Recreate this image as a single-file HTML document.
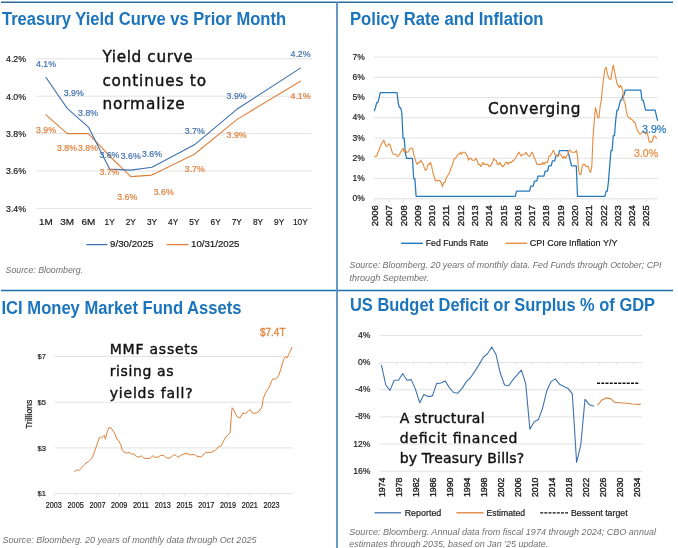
<!DOCTYPE html>
<html lang="en"><head><meta charset="utf-8"><title>Charts</title>
<style>html,body{margin:0;padding:0;background:#fff;}body{width:678px;height:548px;overflow:hidden;}svg{display:block;}</style>
</head><body>
<svg width="678" height="548" viewBox="0 0 678 548" font-family="'Liberation Sans', Arial, sans-serif">
<rect width="678" height="548" fill="#fff"/>
<line x1="1.0" y1="2.3" x2="673.0" y2="2.3" stroke="#2a6e9f" stroke-width="1.4"/>
<line x1="1.0" y1="290.5" x2="673.0" y2="290.5" stroke="#1e70ad" stroke-width="1.4"/>
<line x1="337.0" y1="2.0" x2="337.0" y2="548.0" stroke="#5a8fc0" stroke-width="1.8"/>
<text x="2.0" y="24.5" font-size="17.5" fill="#1c75bc" font-weight="bold" textLength="284.0" lengthAdjust="spacingAndGlyphs">Treasury Yield Curve vs Prior Month</text>
<text x="350.0" y="24.5" font-size="17.5" fill="#1c75bc" font-weight="bold" textLength="193.5" lengthAdjust="spacingAndGlyphs">Policy Rate and Inflation</text>
<text x="1.5" y="313.5" font-size="17.5" fill="#1c75bc" font-weight="bold" textLength="240.0" lengthAdjust="spacingAndGlyphs">ICI Money Market Fund Assets</text>
<text x="350.0" y="311.3" font-size="17.5" fill="#1c75bc" font-weight="bold" textLength="305.0" lengthAdjust="spacingAndGlyphs">US Budget Deficit or Surplus % of GDP</text>
<line x1="36.0" y1="58.8" x2="311.8" y2="58.8" stroke="#e2e2e2" stroke-width="1"/>
<text x="6.0" y="62.1" font-size="9.5" fill="#1a1a1a" stroke="#1a1a1a" stroke-width="0.2" textLength="20.0" lengthAdjust="spacingAndGlyphs">4.2%</text>
<line x1="36.0" y1="96.2" x2="311.8" y2="96.2" stroke="#e2e2e2" stroke-width="1"/>
<text x="6.0" y="99.5" font-size="9.5" fill="#1a1a1a" stroke="#1a1a1a" stroke-width="0.2" textLength="20.0" lengthAdjust="spacingAndGlyphs">4.0%</text>
<line x1="36.0" y1="133.6" x2="311.8" y2="133.6" stroke="#e2e2e2" stroke-width="1"/>
<text x="6.0" y="136.9" font-size="9.5" fill="#1a1a1a" stroke="#1a1a1a" stroke-width="0.2" textLength="20.0" lengthAdjust="spacingAndGlyphs">3.8%</text>
<line x1="36.0" y1="171.0" x2="311.8" y2="171.0" stroke="#e2e2e2" stroke-width="1"/>
<text x="6.0" y="174.3" font-size="9.5" fill="#1a1a1a" stroke="#1a1a1a" stroke-width="0.2" textLength="20.0" lengthAdjust="spacingAndGlyphs">3.6%</text>
<line x1="36.0" y1="208.4" x2="311.8" y2="208.4" stroke="#e2e2e2" stroke-width="1"/>
<text x="6.0" y="211.7" font-size="9.5" fill="#1a1a1a" stroke="#1a1a1a" stroke-width="0.2" textLength="20.0" lengthAdjust="spacingAndGlyphs">3.4%</text>
<text x="39.1" y="225.2" font-size="9.6" fill="#1a1a1a" stroke="#1a1a1a" stroke-width="0.2" textLength="13.8" lengthAdjust="spacingAndGlyphs">1M</text>
<text x="60.3" y="225.2" font-size="9.6" fill="#1a1a1a" stroke="#1a1a1a" stroke-width="0.2" textLength="13.8" lengthAdjust="spacingAndGlyphs">3M</text>
<text x="81.5" y="225.2" font-size="9.6" fill="#1a1a1a" stroke="#1a1a1a" stroke-width="0.2" textLength="13.8" lengthAdjust="spacingAndGlyphs">6M</text>
<text x="104.5" y="225.2" font-size="9.6" fill="#1a1a1a" stroke="#1a1a1a" stroke-width="0.2" textLength="10.2" lengthAdjust="spacingAndGlyphs">1Y</text>
<text x="125.7" y="225.2" font-size="9.6" fill="#1a1a1a" stroke="#1a1a1a" stroke-width="0.2" textLength="10.2" lengthAdjust="spacingAndGlyphs">2Y</text>
<text x="146.9" y="225.2" font-size="9.6" fill="#1a1a1a" stroke="#1a1a1a" stroke-width="0.2" textLength="10.2" lengthAdjust="spacingAndGlyphs">3Y</text>
<text x="168.1" y="225.2" font-size="9.6" fill="#1a1a1a" stroke="#1a1a1a" stroke-width="0.2" textLength="10.2" lengthAdjust="spacingAndGlyphs">4Y</text>
<text x="189.3" y="225.2" font-size="9.6" fill="#1a1a1a" stroke="#1a1a1a" stroke-width="0.2" textLength="10.2" lengthAdjust="spacingAndGlyphs">5Y</text>
<text x="210.5" y="225.2" font-size="9.6" fill="#1a1a1a" stroke="#1a1a1a" stroke-width="0.2" textLength="10.2" lengthAdjust="spacingAndGlyphs">6Y</text>
<text x="231.7" y="225.2" font-size="9.6" fill="#1a1a1a" stroke="#1a1a1a" stroke-width="0.2" textLength="10.2" lengthAdjust="spacingAndGlyphs">7Y</text>
<text x="252.9" y="225.2" font-size="9.6" fill="#1a1a1a" stroke="#1a1a1a" stroke-width="0.2" textLength="10.2" lengthAdjust="spacingAndGlyphs">8Y</text>
<text x="274.1" y="225.2" font-size="9.6" fill="#1a1a1a" stroke="#1a1a1a" stroke-width="0.2" textLength="10.2" lengthAdjust="spacingAndGlyphs">9Y</text>
<text x="293.0" y="225.2" font-size="9.6" fill="#1a1a1a" stroke="#1a1a1a" stroke-width="0.2" textLength="14.8" lengthAdjust="spacingAndGlyphs">10Y</text>
<polyline points="46.0,114.9 67.2,133.6 88.4,133.6 109.6,156.0 130.8,176.6 152.0,175.1 194.4,154.2 236.8,119.6 300.4,81.2" fill="none" stroke="#e0803c" stroke-width="1.1" stroke-linejoin="round" stroke-linecap="round"/>
<polyline points="46.0,77.5 67.2,108.4 88.4,127.1 109.6,169.1 130.8,170.1 152.0,167.3 194.4,144.8 236.8,109.3 300.4,68.1" fill="none" stroke="#3f72ae" stroke-width="1.1" stroke-linejoin="round" stroke-linecap="round"/>
<text x="36.0" y="66.6" font-size="9" fill="#3f72ae" stroke="#3f72ae" stroke-width="0.2" textLength="20.0" lengthAdjust="spacingAndGlyphs">4.1%</text>
<text x="63.8" y="96.3" font-size="9" fill="#3f72ae" stroke="#3f72ae" stroke-width="0.2" textLength="20.0" lengthAdjust="spacingAndGlyphs">3.9%</text>
<text x="78.1" y="116.2" font-size="9" fill="#3f72ae" stroke="#3f72ae" stroke-width="0.2" textLength="20.0" lengthAdjust="spacingAndGlyphs">3.8%</text>
<text x="99.4" y="157.9" font-size="9" fill="#3f72ae" stroke="#3f72ae" stroke-width="0.2" textLength="20.0" lengthAdjust="spacingAndGlyphs">3.6%</text>
<text x="120.7" y="159.4" font-size="9" fill="#3f72ae" stroke="#3f72ae" stroke-width="0.2" textLength="20.0" lengthAdjust="spacingAndGlyphs">3.6%</text>
<text x="142.0" y="157.1" font-size="9" fill="#3f72ae" stroke="#3f72ae" stroke-width="0.2" textLength="20.0" lengthAdjust="spacingAndGlyphs">3.6%</text>
<text x="184.8" y="134.3" font-size="9" fill="#3f72ae" stroke="#3f72ae" stroke-width="0.2" textLength="20.0" lengthAdjust="spacingAndGlyphs">3.7%</text>
<text x="226.6" y="98.7" font-size="9" fill="#3f72ae" stroke="#3f72ae" stroke-width="0.2" textLength="20.0" lengthAdjust="spacingAndGlyphs">3.9%</text>
<text x="290.5" y="57.2" font-size="9" fill="#3f72ae" stroke="#3f72ae" stroke-width="0.2" textLength="20.0" lengthAdjust="spacingAndGlyphs">4.2%</text>
<text x="36.0" y="133.1" font-size="9" fill="#e0803c" stroke="#e0803c" stroke-width="0.2" textLength="20.0" lengthAdjust="spacingAndGlyphs">3.9%</text>
<text x="57.0" y="151.2" font-size="9" fill="#e0803c" stroke="#e0803c" stroke-width="0.2" textLength="20.0" lengthAdjust="spacingAndGlyphs">3.8%</text>
<text x="78.0" y="151.2" font-size="9" fill="#e0803c" stroke="#e0803c" stroke-width="0.2" textLength="20.0" lengthAdjust="spacingAndGlyphs">3.8%</text>
<text x="99.4" y="174.6" font-size="9" fill="#e0803c" stroke="#e0803c" stroke-width="0.2" textLength="20.0" lengthAdjust="spacingAndGlyphs">3.7%</text>
<text x="117.2" y="200.0" font-size="9" fill="#e0803c" stroke="#e0803c" stroke-width="0.2" textLength="20.0" lengthAdjust="spacingAndGlyphs">3.6%</text>
<text x="153.7" y="195.0" font-size="9" fill="#e0803c" stroke="#e0803c" stroke-width="0.2" textLength="20.0" lengthAdjust="spacingAndGlyphs">3.6%</text>
<text x="184.8" y="172.2" font-size="9" fill="#e0803c" stroke="#e0803c" stroke-width="0.2" textLength="20.0" lengthAdjust="spacingAndGlyphs">3.7%</text>
<text x="226.6" y="138.1" font-size="9" fill="#e0803c" stroke="#e0803c" stroke-width="0.2" textLength="20.0" lengthAdjust="spacingAndGlyphs">3.9%</text>
<text x="290.5" y="99.2" font-size="9" fill="#e0803c" stroke="#e0803c" stroke-width="0.2" textLength="20.0" lengthAdjust="spacingAndGlyphs">4.1%</text>
<line x1="86.4" y1="244.6" x2="107.4" y2="244.6" stroke="#3f72ae" stroke-width="1.3"/>
<text x="110.0" y="247.1" font-size="9.5" fill="#1a1a1a" stroke="#1a1a1a" stroke-width="0.2" textLength="43.4" lengthAdjust="spacingAndGlyphs">9/30/2025</text>
<line x1="166.7" y1="244.6" x2="188.4" y2="244.6" stroke="#e0803c" stroke-width="1.3"/>
<text x="191.0" y="247.1" font-size="9.5" fill="#1a1a1a" stroke="#1a1a1a" stroke-width="0.2" textLength="48.5" lengthAdjust="spacingAndGlyphs">10/31/2025</text>
<text x="102.4" y="61.6" font-size="15.3" fill="#111" stroke="#111" stroke-width="0.4" font-family="'DejaVu Sans', 'Liberation Sans', sans-serif" textLength="90.3" lengthAdjust="spacing">Yield curve</text>
<text x="102.4" y="85.7" font-size="15.3" fill="#111" stroke="#111" stroke-width="0.4" font-family="'DejaVu Sans', 'Liberation Sans', sans-serif" textLength="103.6" lengthAdjust="spacing">continues to</text>
<text x="102.4" y="109.4" font-size="15.3" fill="#111" stroke="#111" stroke-width="0.4" font-family="'DejaVu Sans', 'Liberation Sans', sans-serif" textLength="82.3" lengthAdjust="spacing">normalize</text>
<text x="5.6" y="272.6" font-size="9.5" fill="#707070" font-style="italic" textLength="77.4" lengthAdjust="spacingAndGlyphs">Source: Bloomberg.</text>
<line x1="374.0" y1="198.8" x2="657.8" y2="198.8" stroke="#e2e2e2" stroke-width="1"/>
<text x="352.6" y="201.4" font-size="9.5" fill="#1a1a1a" stroke="#1a1a1a" stroke-width="0.2" textLength="12.3" lengthAdjust="spacingAndGlyphs">0%</text>
<line x1="374.0" y1="178.6" x2="657.8" y2="178.6" stroke="#e2e2e2" stroke-width="1"/>
<text x="352.6" y="181.2" font-size="9.5" fill="#1a1a1a" stroke="#1a1a1a" stroke-width="0.2" textLength="12.3" lengthAdjust="spacingAndGlyphs">1%</text>
<line x1="374.0" y1="158.3" x2="657.8" y2="158.3" stroke="#e2e2e2" stroke-width="1"/>
<text x="352.6" y="160.9" font-size="9.5" fill="#1a1a1a" stroke="#1a1a1a" stroke-width="0.2" textLength="12.3" lengthAdjust="spacingAndGlyphs">2%</text>
<line x1="374.0" y1="138.1" x2="657.8" y2="138.1" stroke="#e2e2e2" stroke-width="1"/>
<text x="352.6" y="140.7" font-size="9.5" fill="#1a1a1a" stroke="#1a1a1a" stroke-width="0.2" textLength="12.3" lengthAdjust="spacingAndGlyphs">3%</text>
<line x1="374.0" y1="117.8" x2="657.8" y2="117.8" stroke="#e2e2e2" stroke-width="1"/>
<text x="352.6" y="120.4" font-size="9.5" fill="#1a1a1a" stroke="#1a1a1a" stroke-width="0.2" textLength="12.3" lengthAdjust="spacingAndGlyphs">4%</text>
<line x1="374.0" y1="97.6" x2="657.8" y2="97.6" stroke="#e2e2e2" stroke-width="1"/>
<text x="352.6" y="100.2" font-size="9.5" fill="#1a1a1a" stroke="#1a1a1a" stroke-width="0.2" textLength="12.3" lengthAdjust="spacingAndGlyphs">5%</text>
<line x1="374.0" y1="77.3" x2="657.8" y2="77.3" stroke="#e2e2e2" stroke-width="1"/>
<text x="352.6" y="79.9" font-size="9.5" fill="#1a1a1a" stroke="#1a1a1a" stroke-width="0.2" textLength="12.3" lengthAdjust="spacingAndGlyphs">6%</text>
<line x1="374.0" y1="57.1" x2="657.8" y2="57.1" stroke="#e2e2e2" stroke-width="1"/>
<text x="352.6" y="59.7" font-size="9.5" fill="#1a1a1a" stroke="#1a1a1a" stroke-width="0.2" textLength="12.3" lengthAdjust="spacingAndGlyphs">7%</text>
<polyline points="374.3,110.7 375.5,107.7 376.7,102.6 377.9,102.6 379.1,97.6 380.3,92.5 381.5,92.5 382.7,92.5 383.9,92.5 385.1,92.5 386.2,92.5 387.4,92.5 388.6,92.5 389.8,92.5 391.0,92.5 392.2,92.5 393.4,92.5 394.6,92.5 395.8,92.5 397.0,92.5 398.2,102.6 399.4,107.7 400.6,107.7 401.8,112.7 403.0,138.1 404.2,138.1 405.4,153.2 406.6,158.3 407.8,158.3 409.0,158.3 410.2,158.3 411.3,158.3 412.5,158.3 413.7,178.6 414.9,178.6 416.1,196.3 417.3,196.3 418.5,196.3 419.7,196.3 420.9,196.3 422.1,196.3 423.3,196.3 424.5,196.3 425.7,196.3 426.9,196.3 428.1,196.3 429.3,196.3 430.5,196.3 431.7,196.3 432.9,196.3 434.1,196.3 435.2,196.3 436.4,196.3 437.6,196.3 438.8,196.3 440.0,196.3 441.2,196.3 442.4,196.3 443.6,196.3 444.8,196.3 446.0,196.3 447.2,196.3 448.4,196.3 449.6,196.3 450.8,196.3 452.0,196.3 453.2,196.3 454.4,196.3 455.6,196.3 456.8,196.3 458.0,196.3 459.1,196.3 460.3,196.3 461.5,196.3 462.7,196.3 463.9,196.3 465.1,196.3 466.3,196.3 467.5,196.3 468.7,196.3 469.9,196.3 471.1,196.3 472.3,196.3 473.5,196.3 474.7,196.3 475.9,196.3 477.1,196.3 478.3,196.3 479.5,196.3 480.7,196.3 481.9,196.3 483.0,196.3 484.2,196.3 485.4,196.3 486.6,196.3 487.8,196.3 489.0,196.3 490.2,196.3 491.4,196.3 492.6,196.3 493.8,196.3 495.0,196.3 496.2,196.3 497.4,196.3 498.6,196.3 499.8,196.3 501.0,196.3 502.2,196.3 503.4,196.3 504.6,196.3 505.8,196.3 506.9,196.3 508.1,196.3 509.3,196.3 510.5,196.3 511.7,196.3 512.9,196.3 514.1,196.3 515.3,196.3 516.5,191.2 517.7,191.2 518.9,191.2 520.1,191.2 521.3,191.2 522.5,191.2 523.7,191.2 524.9,191.2 526.1,191.2 527.3,191.2 528.5,191.2 529.6,191.2 530.8,186.1 532.0,186.1 533.2,186.1 534.4,181.1 535.6,181.1 536.8,181.1 538.0,176.0 539.2,176.0 540.4,176.0 541.6,176.0 542.8,176.0 544.0,176.0 545.2,171.0 546.4,171.0 547.6,171.0 548.8,165.9 550.0,165.9 551.2,165.9 552.4,160.8 553.5,160.8 554.7,160.8 555.9,155.8 557.1,155.8 558.3,155.8 559.5,150.7 560.7,150.7 561.9,150.7 563.1,150.7 564.3,150.7 565.5,150.7 566.7,150.7 567.9,150.7 569.1,155.8 570.3,160.8 571.5,165.9 572.7,165.9 573.9,165.9 575.1,165.9 576.3,165.9 577.5,196.3 578.6,196.3 579.8,196.3 581.0,196.3 582.2,196.3 583.4,196.3 584.6,196.3 585.8,196.3 587.0,196.3 588.2,196.3 589.4,196.3 590.6,196.3 591.8,196.3 593.0,196.3 594.2,196.3 595.4,196.3 596.6,196.3 597.8,196.3 599.0,196.3 600.2,196.3 601.4,196.3 602.5,196.3 603.7,196.3 604.9,196.3 606.1,191.2 607.3,191.2 608.5,181.1 609.7,165.9 610.9,150.7 612.1,150.7 613.3,135.5 614.5,135.5 615.7,120.3 616.9,110.2 618.1,110.2 619.3,105.1 620.5,100.1 621.7,100.1 622.9,95.0 624.1,95.0 625.2,90.0 626.4,90.0 627.6,90.0 628.8,90.0 630.0,90.0 631.2,90.0 632.4,90.0 633.6,90.0 634.8,90.0 636.0,90.0 637.2,90.0 638.4,90.0 639.6,90.0 640.8,90.0 642.0,100.1 643.2,100.1 644.4,105.1 645.6,110.2 646.8,110.2 648.0,110.2 649.2,110.2 650.3,110.2 651.5,110.2 652.7,110.2 653.9,110.2 655.1,110.2 656.3,115.3 657.5,120.3" fill="none" stroke="#2479bd" stroke-width="1.25" stroke-linejoin="round" stroke-linecap="round"/>
<polyline points="374.3,156.3 375.5,156.3 376.7,156.3 377.9,152.2 379.1,150.2 380.3,146.2 381.5,144.1 382.7,142.1 383.9,140.1 385.1,144.1 386.2,146.2 387.4,146.2 388.6,144.1 389.8,144.1 391.0,148.2 392.2,152.2 393.4,154.2 394.6,154.2 395.8,154.2 397.0,156.3 398.2,156.3 399.4,154.2 400.6,152.2 401.8,150.2 403.0,148.2 404.2,152.2 405.4,150.2 406.6,152.2 407.8,152.2 409.0,150.2 410.2,148.2 411.3,148.2 412.5,148.2 413.7,154.2 414.9,158.3 416.1,162.4 417.3,164.4 418.5,162.4 419.7,162.4 420.9,160.3 422.1,162.4 423.3,164.4 424.5,168.4 425.7,170.5 426.9,168.4 428.1,164.4 429.3,164.4 430.5,162.4 431.7,166.4 432.9,172.5 434.1,176.5 435.2,180.6 436.4,180.6 437.6,180.6 438.8,180.6 440.0,180.6 441.2,182.6 442.4,186.7 443.6,182.6 444.8,182.6 446.0,178.6 447.2,176.5 448.4,174.5 449.6,172.5 450.8,168.4 452.0,166.4 453.2,162.4 454.4,158.3 455.6,158.3 456.8,156.3 458.0,154.2 459.1,154.2 460.3,152.2 461.5,154.2 462.7,152.2 463.9,152.2 465.1,152.2 466.3,154.2 467.5,156.3 468.7,160.3 469.9,158.3 471.1,158.3 472.3,160.3 473.5,160.3 474.7,160.3 475.9,158.3 477.1,160.3 478.3,164.4 479.5,164.4 480.7,166.4 481.9,164.4 483.0,162.4 484.2,164.4 485.4,164.4 486.6,164.4 487.8,164.4 489.0,166.4 490.2,166.4 491.4,164.4 492.6,162.4 493.8,158.3 495.0,160.3 496.2,160.3 497.4,164.4 498.6,164.4 499.8,162.4 501.0,164.4 502.2,166.4 503.4,166.4 504.6,164.4 505.8,162.4 506.9,162.4 508.1,164.4 509.3,162.4 510.5,162.4 511.7,162.4 512.9,160.3 514.1,160.3 515.3,158.3 516.5,156.3 517.7,154.2 518.9,152.2 520.1,154.2 521.3,156.3 522.5,154.2 523.7,154.2 524.9,154.2 526.1,152.2 527.3,154.2 528.5,156.3 529.6,156.3 530.8,154.2 532.0,152.2 533.2,154.2 534.4,158.3 535.6,160.3 536.8,164.4 538.0,164.4 539.2,164.4 540.4,164.4 541.6,164.4 542.8,162.4 544.0,164.4 545.2,162.4 546.4,162.4 547.6,162.4 548.8,156.3 550.0,156.3 551.2,154.2 552.4,152.2 553.5,150.2 554.7,154.2 555.9,154.2 557.1,156.3 558.3,154.2 559.5,154.2 560.7,154.2 561.9,156.3 563.1,158.3 564.3,156.3 565.5,158.3 566.7,156.3 567.9,154.2 569.1,150.2 570.3,150.2 571.5,152.2 572.7,152.2 573.9,152.2 575.1,152.2 576.3,150.2 577.5,156.3 578.6,170.5 579.8,174.5 581.0,174.5 582.2,166.4 583.4,164.4 584.6,164.4 585.8,166.4 587.0,166.4 588.2,166.4 589.4,170.5 590.6,172.5 591.8,166.4 593.0,138.1 594.2,121.9 595.4,107.7 596.6,111.7 597.8,117.8 599.0,117.8 600.2,105.7 601.4,99.6 602.5,87.4 603.7,77.3 604.9,69.2 606.1,67.2 607.3,73.3 608.5,77.3 609.7,79.3 610.9,79.3 612.1,71.2 613.3,65.2 614.5,71.2 615.7,77.3 616.9,83.4 618.1,85.4 619.3,87.4 620.5,85.4 621.7,87.4 622.9,91.5 624.1,101.6 625.2,103.6 626.4,111.7 627.6,115.8 628.8,117.8 630.0,117.8 631.2,119.8 632.4,119.8 633.6,121.9 634.8,121.9 636.0,125.9 637.2,130.0 638.4,132.0 639.6,134.0 640.8,134.0 642.0,132.0 643.2,132.0 644.4,132.0 645.6,134.0 646.8,132.0 648.0,136.0 649.2,142.1 650.3,142.1 651.5,142.1 652.7,140.1 653.9,136.0 655.1,136.0 656.3,138.1" fill="none" stroke="#e58a3c" stroke-width="1.1" stroke-linejoin="round" stroke-linecap="round"/>
<text x="378.0" y="226.2" font-size="9.4" fill="#1a1a1a" stroke="#1a1a1a" stroke-width="0.35" textLength="21.0" lengthAdjust="spacingAndGlyphs" transform="rotate(-90 378.0 226.2)">2006</text>
<line x1="374.9" y1="199.3" x2="374.9" y2="202.4" stroke="#e2e2e2" stroke-width="1"/>
<text x="392.3" y="226.2" font-size="9.4" fill="#1a1a1a" stroke="#1a1a1a" stroke-width="0.35" textLength="21.0" lengthAdjust="spacingAndGlyphs" transform="rotate(-90 392.3 226.2)">2007</text>
<line x1="389.2" y1="199.3" x2="389.2" y2="202.4" stroke="#e2e2e2" stroke-width="1"/>
<text x="406.6" y="226.2" font-size="9.4" fill="#1a1a1a" stroke="#1a1a1a" stroke-width="0.35" textLength="21.0" lengthAdjust="spacingAndGlyphs" transform="rotate(-90 406.6 226.2)">2008</text>
<line x1="403.5" y1="199.3" x2="403.5" y2="202.4" stroke="#e2e2e2" stroke-width="1"/>
<text x="420.9" y="226.2" font-size="9.4" fill="#1a1a1a" stroke="#1a1a1a" stroke-width="0.35" textLength="21.0" lengthAdjust="spacingAndGlyphs" transform="rotate(-90 420.9 226.2)">2009</text>
<line x1="417.8" y1="199.3" x2="417.8" y2="202.4" stroke="#e2e2e2" stroke-width="1"/>
<text x="435.2" y="226.2" font-size="9.4" fill="#1a1a1a" stroke="#1a1a1a" stroke-width="0.35" textLength="21.0" lengthAdjust="spacingAndGlyphs" transform="rotate(-90 435.2 226.2)">2010</text>
<line x1="432.1" y1="199.3" x2="432.1" y2="202.4" stroke="#e2e2e2" stroke-width="1"/>
<text x="449.4" y="226.2" font-size="9.4" fill="#1a1a1a" stroke="#1a1a1a" stroke-width="0.35" textLength="21.0" lengthAdjust="spacingAndGlyphs" transform="rotate(-90 449.4 226.2)">2011</text>
<line x1="446.3" y1="199.3" x2="446.3" y2="202.4" stroke="#e2e2e2" stroke-width="1"/>
<text x="463.7" y="226.2" font-size="9.4" fill="#1a1a1a" stroke="#1a1a1a" stroke-width="0.35" textLength="21.0" lengthAdjust="spacingAndGlyphs" transform="rotate(-90 463.7 226.2)">2012</text>
<line x1="460.6" y1="199.3" x2="460.6" y2="202.4" stroke="#e2e2e2" stroke-width="1"/>
<text x="478.0" y="226.2" font-size="9.4" fill="#1a1a1a" stroke="#1a1a1a" stroke-width="0.35" textLength="21.0" lengthAdjust="spacingAndGlyphs" transform="rotate(-90 478.0 226.2)">2013</text>
<line x1="474.9" y1="199.3" x2="474.9" y2="202.4" stroke="#e2e2e2" stroke-width="1"/>
<text x="492.3" y="226.2" font-size="9.4" fill="#1a1a1a" stroke="#1a1a1a" stroke-width="0.35" textLength="21.0" lengthAdjust="spacingAndGlyphs" transform="rotate(-90 492.3 226.2)">2014</text>
<line x1="489.2" y1="199.3" x2="489.2" y2="202.4" stroke="#e2e2e2" stroke-width="1"/>
<text x="506.6" y="226.2" font-size="9.4" fill="#1a1a1a" stroke="#1a1a1a" stroke-width="0.35" textLength="21.0" lengthAdjust="spacingAndGlyphs" transform="rotate(-90 506.6 226.2)">2015</text>
<line x1="503.5" y1="199.3" x2="503.5" y2="202.4" stroke="#e2e2e2" stroke-width="1"/>
<text x="520.9" y="226.2" font-size="9.4" fill="#1a1a1a" stroke="#1a1a1a" stroke-width="0.35" textLength="21.0" lengthAdjust="spacingAndGlyphs" transform="rotate(-90 520.9 226.2)">2016</text>
<line x1="517.8" y1="199.3" x2="517.8" y2="202.4" stroke="#e2e2e2" stroke-width="1"/>
<text x="535.2" y="226.2" font-size="9.4" fill="#1a1a1a" stroke="#1a1a1a" stroke-width="0.35" textLength="21.0" lengthAdjust="spacingAndGlyphs" transform="rotate(-90 535.2 226.2)">2017</text>
<line x1="532.1" y1="199.3" x2="532.1" y2="202.4" stroke="#e2e2e2" stroke-width="1"/>
<text x="549.5" y="226.2" font-size="9.4" fill="#1a1a1a" stroke="#1a1a1a" stroke-width="0.35" textLength="21.0" lengthAdjust="spacingAndGlyphs" transform="rotate(-90 549.5 226.2)">2018</text>
<line x1="546.4" y1="199.3" x2="546.4" y2="202.4" stroke="#e2e2e2" stroke-width="1"/>
<text x="563.8" y="226.2" font-size="9.4" fill="#1a1a1a" stroke="#1a1a1a" stroke-width="0.35" textLength="21.0" lengthAdjust="spacingAndGlyphs" transform="rotate(-90 563.8 226.2)">2019</text>
<line x1="560.7" y1="199.3" x2="560.7" y2="202.4" stroke="#e2e2e2" stroke-width="1"/>
<text x="578.1" y="226.2" font-size="9.4" fill="#1a1a1a" stroke="#1a1a1a" stroke-width="0.35" textLength="21.0" lengthAdjust="spacingAndGlyphs" transform="rotate(-90 578.1 226.2)">2020</text>
<line x1="575.0" y1="199.3" x2="575.0" y2="202.4" stroke="#e2e2e2" stroke-width="1"/>
<text x="592.3" y="226.2" font-size="9.4" fill="#1a1a1a" stroke="#1a1a1a" stroke-width="0.35" textLength="21.0" lengthAdjust="spacingAndGlyphs" transform="rotate(-90 592.3 226.2)">2021</text>
<line x1="589.2" y1="199.3" x2="589.2" y2="202.4" stroke="#e2e2e2" stroke-width="1"/>
<text x="606.6" y="226.2" font-size="9.4" fill="#1a1a1a" stroke="#1a1a1a" stroke-width="0.35" textLength="21.0" lengthAdjust="spacingAndGlyphs" transform="rotate(-90 606.6 226.2)">2022</text>
<line x1="603.5" y1="199.3" x2="603.5" y2="202.4" stroke="#e2e2e2" stroke-width="1"/>
<text x="620.9" y="226.2" font-size="9.4" fill="#1a1a1a" stroke="#1a1a1a" stroke-width="0.35" textLength="21.0" lengthAdjust="spacingAndGlyphs" transform="rotate(-90 620.9 226.2)">2023</text>
<line x1="617.8" y1="199.3" x2="617.8" y2="202.4" stroke="#e2e2e2" stroke-width="1"/>
<text x="635.2" y="226.2" font-size="9.4" fill="#1a1a1a" stroke="#1a1a1a" stroke-width="0.35" textLength="21.0" lengthAdjust="spacingAndGlyphs" transform="rotate(-90 635.2 226.2)">2024</text>
<line x1="632.1" y1="199.3" x2="632.1" y2="202.4" stroke="#e2e2e2" stroke-width="1"/>
<text x="649.5" y="226.2" font-size="9.4" fill="#1a1a1a" stroke="#1a1a1a" stroke-width="0.35" textLength="21.0" lengthAdjust="spacingAndGlyphs" transform="rotate(-90 649.5 226.2)">2025</text>
<line x1="646.4" y1="199.3" x2="646.4" y2="202.4" stroke="#e2e2e2" stroke-width="1"/>
<text x="642.0" y="133.3" font-size="10.5" fill="#2479bd" stroke="#2479bd" stroke-width="0.2" textLength="24.3" lengthAdjust="spacingAndGlyphs">3.9%</text>
<text x="634.0" y="156.8" font-size="10.5" fill="#e58a3c" stroke="#e58a3c" stroke-width="0.2" textLength="24.0" lengthAdjust="spacingAndGlyphs">3.0%</text>
<line x1="401.0" y1="243.3" x2="422.9" y2="243.3" stroke="#2479bd" stroke-width="1.4"/>
<text x="425.7" y="245.9" font-size="9.3" fill="#1a1a1a" stroke="#1a1a1a" stroke-width="0.2" textLength="62.6" lengthAdjust="spacingAndGlyphs">Fed Funds Rate</text>
<line x1="505.4" y1="243.3" x2="527.2" y2="243.3" stroke="#e58a3c" stroke-width="1.3"/>
<text x="529.7" y="245.9" font-size="9.3" fill="#1a1a1a" stroke="#1a1a1a" stroke-width="0.2" textLength="87.7" lengthAdjust="spacingAndGlyphs">CPI Core Inflation Y/Y</text>
<text x="488.0" y="113.5" font-size="15.3" fill="#111" stroke="#111" stroke-width="0.4" font-family="'DejaVu Sans', 'Liberation Sans', sans-serif" textLength="92.5" lengthAdjust="spacing">Converging</text>
<text x="349.5" y="268.0" font-size="9.5" fill="#707070" font-style="italic" textLength="312.0" lengthAdjust="spacingAndGlyphs">Source: Bloomberg. 20 years of monthly data. Fed Funds through October; CPI</text>
<text x="349.5" y="280.8" font-size="9.5" fill="#707070" font-style="italic" textLength="79.8" lengthAdjust="spacingAndGlyphs">through September.</text>
<line x1="54.2" y1="493.6" x2="292.2" y2="493.6" stroke="#e2e2e2" stroke-width="1"/>
<text x="37.6" y="496.2" font-size="8" fill="#1a1a1a" stroke="#1a1a1a" stroke-width="0.2" textLength="8.4" lengthAdjust="spacingAndGlyphs">$1</text>
<line x1="54.2" y1="447.9" x2="292.2" y2="447.9" stroke="#e2e2e2" stroke-width="1"/>
<text x="37.6" y="450.5" font-size="8" fill="#1a1a1a" stroke="#1a1a1a" stroke-width="0.2" textLength="8.4" lengthAdjust="spacingAndGlyphs">$3</text>
<line x1="54.2" y1="402.2" x2="292.2" y2="402.2" stroke="#e2e2e2" stroke-width="1"/>
<text x="37.6" y="404.8" font-size="8" fill="#1a1a1a" stroke="#1a1a1a" stroke-width="0.2" textLength="8.4" lengthAdjust="spacingAndGlyphs">$5</text>
<line x1="54.2" y1="356.5" x2="292.2" y2="356.5" stroke="#e2e2e2" stroke-width="1"/>
<text x="37.6" y="359.1" font-size="8" fill="#1a1a1a" stroke="#1a1a1a" stroke-width="0.2" textLength="8.4" lengthAdjust="spacingAndGlyphs">$7</text>
<text x="45.8" y="508.0" font-size="8.2" fill="#1a1a1a" stroke="#1a1a1a" stroke-width="0.2" textLength="16.1" lengthAdjust="spacingAndGlyphs">2003</text>
<line x1="54.2" y1="493.6" x2="54.2" y2="496.6" stroke="#e2e2e2" stroke-width="1"/>
<text x="67.6" y="508.0" font-size="8.2" fill="#1a1a1a" stroke="#1a1a1a" stroke-width="0.2" textLength="16.1" lengthAdjust="spacingAndGlyphs">2005</text>
<line x1="76.0" y1="493.6" x2="76.0" y2="496.6" stroke="#e2e2e2" stroke-width="1"/>
<text x="89.4" y="508.0" font-size="8.2" fill="#1a1a1a" stroke="#1a1a1a" stroke-width="0.2" textLength="16.1" lengthAdjust="spacingAndGlyphs">2007</text>
<line x1="97.7" y1="493.6" x2="97.7" y2="496.6" stroke="#e2e2e2" stroke-width="1"/>
<text x="111.1" y="508.0" font-size="8.2" fill="#1a1a1a" stroke="#1a1a1a" stroke-width="0.2" textLength="16.1" lengthAdjust="spacingAndGlyphs">2009</text>
<line x1="119.5" y1="493.6" x2="119.5" y2="496.6" stroke="#e2e2e2" stroke-width="1"/>
<text x="132.9" y="508.0" font-size="8.2" fill="#1a1a1a" stroke="#1a1a1a" stroke-width="0.2" textLength="16.1" lengthAdjust="spacingAndGlyphs">2011</text>
<line x1="141.2" y1="493.6" x2="141.2" y2="496.6" stroke="#e2e2e2" stroke-width="1"/>
<text x="154.7" y="508.0" font-size="8.2" fill="#1a1a1a" stroke="#1a1a1a" stroke-width="0.2" textLength="16.1" lengthAdjust="spacingAndGlyphs">2013</text>
<line x1="163.0" y1="493.6" x2="163.0" y2="496.6" stroke="#e2e2e2" stroke-width="1"/>
<text x="176.4" y="508.0" font-size="8.2" fill="#1a1a1a" stroke="#1a1a1a" stroke-width="0.2" textLength="16.1" lengthAdjust="spacingAndGlyphs">2015</text>
<line x1="184.8" y1="493.6" x2="184.8" y2="496.6" stroke="#e2e2e2" stroke-width="1"/>
<text x="198.2" y="508.0" font-size="8.2" fill="#1a1a1a" stroke="#1a1a1a" stroke-width="0.2" textLength="16.1" lengthAdjust="spacingAndGlyphs">2017</text>
<line x1="206.5" y1="493.6" x2="206.5" y2="496.6" stroke="#e2e2e2" stroke-width="1"/>
<text x="219.9" y="508.0" font-size="8.2" fill="#1a1a1a" stroke="#1a1a1a" stroke-width="0.2" textLength="16.1" lengthAdjust="spacingAndGlyphs">2019</text>
<line x1="228.3" y1="493.6" x2="228.3" y2="496.6" stroke="#e2e2e2" stroke-width="1"/>
<text x="241.7" y="508.0" font-size="8.2" fill="#1a1a1a" stroke="#1a1a1a" stroke-width="0.2" textLength="16.1" lengthAdjust="spacingAndGlyphs">2021</text>
<line x1="250.0" y1="493.6" x2="250.0" y2="496.6" stroke="#e2e2e2" stroke-width="1"/>
<text x="263.4" y="508.0" font-size="8.2" fill="#1a1a1a" stroke="#1a1a1a" stroke-width="0.2" textLength="16.1" lengthAdjust="spacingAndGlyphs">2023</text>
<line x1="271.8" y1="493.6" x2="271.8" y2="496.6" stroke="#e2e2e2" stroke-width="1"/>
<text x="31.9" y="428.8" font-size="8.2" fill="#1a1a1a" stroke="#1a1a1a" stroke-width="0.2" textLength="29.1" lengthAdjust="spacingAndGlyphs" transform="rotate(-90 31.9 428.8)">Trillions</text>
<polyline points="74.5,471.3 76.5,470.0 78.9,470.5 82.2,467.1 84.6,464.7 86.2,462.7 88.7,461.6 91.9,458.3 94.3,452.5 96.8,444.9 99.2,437.9 100.5,436.8 101.6,437.9 103.3,436.4 104.4,435.1 105.4,439.2 107.0,432.7 108.9,427.5 111.4,428.3 113.8,431.9 115.4,435.1 117.0,439.2 118.7,441.1 120.6,444.1 122.2,449.7 124.3,452.5 126.8,453.0 129.2,452.5 131.6,454.1 134.1,454.1 136.5,456.7 138.9,457.0 141.4,455.9 143.8,457.9 146.2,458.7 150.3,458.2 152.7,455.7 155.2,457.4 158.4,457.0 160.8,455.4 163.8,455.4 166.5,457.9 169.0,458.3 171.4,457.0 173.8,454.6 176.3,455.7 177.9,457.4 181.5,454.9 185.8,453.2 190.4,454.9 194.3,454.4 196.8,456.2 201.2,457.0 205.8,452.4 210.9,452.4 215.5,450.3 218.5,446.8 221.1,446.0 224.9,438.3 228.2,434.5 230.0,433.2 231.3,416.6 232.1,407.7 233.9,410.2 236.9,416.6 240.2,417.9 242.8,412.8 245.4,413.6 247.9,411.5 249.9,409.5 252.2,412.8 255.6,413.3 258.9,411.5 262.0,406.9 263.2,398.7 265.8,392.4 269.1,387.3 271.7,380.9 273.5,378.3 275.2,379.6 278.6,375.8 281.1,368.1 283.7,359.2 285.4,356.6 287.0,357.9 289.5,352.8 292.1,347.2" fill="none" stroke="#de8038" stroke-width="1.0" stroke-linejoin="round" stroke-linecap="round"/>
<text x="259.9" y="335.9" font-size="10.3" fill="#e2823a" stroke="#e2823a" stroke-width="0.3" textLength="25.7" lengthAdjust="spacingAndGlyphs">$7.4T</text>
<text x="109.7" y="353.9" font-size="14" fill="#111" stroke="#111" stroke-width="0.4" font-family="'DejaVu Sans', 'Liberation Sans', sans-serif" textLength="88.2" lengthAdjust="spacing">MMF assets</text>
<text x="109.7" y="376.0" font-size="14" fill="#111" stroke="#111" stroke-width="0.4" font-family="'DejaVu Sans', 'Liberation Sans', sans-serif" textLength="63.8" lengthAdjust="spacing">rising as</text>
<text x="109.7" y="398.1" font-size="14" fill="#111" stroke="#111" stroke-width="0.4" font-family="'DejaVu Sans', 'Liberation Sans', sans-serif" textLength="82.9" lengthAdjust="spacing">yields fall?</text>
<text x="2.5" y="542.8" font-size="9.5" fill="#707070" font-style="italic" textLength="254.0" lengthAdjust="spacingAndGlyphs">Source: Bloomberg. 20 years of monthly data through Oct 2025</text>
<line x1="379.4" y1="335.4" x2="642.5" y2="335.4" stroke="#e2e2e2" stroke-width="1"/>
<text x="370.5" y="337.9" font-size="8.6" fill="#1a1a1a" stroke="#1a1a1a" stroke-width="0.2" text-anchor="end">4%</text>
<line x1="379.4" y1="362.6" x2="642.5" y2="362.6" stroke="#e2e2e2" stroke-width="1"/>
<text x="370.5" y="365.1" font-size="8.6" fill="#1a1a1a" stroke="#1a1a1a" stroke-width="0.2" text-anchor="end">0%</text>
<line x1="379.4" y1="389.8" x2="642.5" y2="389.8" stroke="#e2e2e2" stroke-width="1"/>
<text x="370.5" y="392.3" font-size="8.6" fill="#1a1a1a" stroke="#1a1a1a" stroke-width="0.2" text-anchor="end">-4%</text>
<line x1="379.4" y1="416.9" x2="642.5" y2="416.9" stroke="#e2e2e2" stroke-width="1"/>
<text x="370.5" y="419.4" font-size="8.6" fill="#1a1a1a" stroke="#1a1a1a" stroke-width="0.2" text-anchor="end">-8%</text>
<line x1="379.4" y1="444.1" x2="642.5" y2="444.1" stroke="#e2e2e2" stroke-width="1"/>
<text x="370.5" y="446.6" font-size="8.6" fill="#1a1a1a" stroke="#1a1a1a" stroke-width="0.2" text-anchor="end">12%</text>
<line x1="379.4" y1="471.2" x2="642.5" y2="471.2" stroke="#e2e2e2" stroke-width="1"/>
<text x="370.5" y="473.7" font-size="8.6" fill="#1a1a1a" stroke="#1a1a1a" stroke-width="0.2" text-anchor="end">16%</text>
<line x1="379.4" y1="362.6" x2="379.4" y2="365.2" stroke="#e2e2e2" stroke-width="1"/>
<line x1="396.4" y1="362.6" x2="396.4" y2="365.2" stroke="#e2e2e2" stroke-width="1"/>
<line x1="413.3" y1="362.6" x2="413.3" y2="365.2" stroke="#e2e2e2" stroke-width="1"/>
<line x1="430.3" y1="362.6" x2="430.3" y2="365.2" stroke="#e2e2e2" stroke-width="1"/>
<line x1="447.2" y1="362.6" x2="447.2" y2="365.2" stroke="#e2e2e2" stroke-width="1"/>
<line x1="464.2" y1="362.6" x2="464.2" y2="365.2" stroke="#e2e2e2" stroke-width="1"/>
<line x1="481.2" y1="362.6" x2="481.2" y2="365.2" stroke="#e2e2e2" stroke-width="1"/>
<line x1="498.1" y1="362.6" x2="498.1" y2="365.2" stroke="#e2e2e2" stroke-width="1"/>
<line x1="515.1" y1="362.6" x2="515.1" y2="365.2" stroke="#e2e2e2" stroke-width="1"/>
<line x1="532.0" y1="362.6" x2="532.0" y2="365.2" stroke="#e2e2e2" stroke-width="1"/>
<line x1="549.0" y1="362.6" x2="549.0" y2="365.2" stroke="#e2e2e2" stroke-width="1"/>
<line x1="566.0" y1="362.6" x2="566.0" y2="365.2" stroke="#e2e2e2" stroke-width="1"/>
<line x1="582.9" y1="362.6" x2="582.9" y2="365.2" stroke="#e2e2e2" stroke-width="1"/>
<line x1="599.9" y1="362.6" x2="599.9" y2="365.2" stroke="#e2e2e2" stroke-width="1"/>
<line x1="616.8" y1="362.6" x2="616.8" y2="365.2" stroke="#e2e2e2" stroke-width="1"/>
<line x1="633.8" y1="362.6" x2="633.8" y2="365.2" stroke="#e2e2e2" stroke-width="1"/>
<polyline points="381.5,365.3 385.8,385.0 390.0,390.4 394.2,380.3 398.5,380.3 402.7,373.5 407.0,380.3 411.2,379.6 415.4,389.1 419.7,402.7 423.9,394.5 428.2,396.6 432.4,395.9 436.6,383.6 440.9,383.0 445.1,380.9 449.4,387.7 453.6,392.5 457.8,393.2 462.1,388.4 466.3,381.6 470.6,377.5 474.8,371.4 479.0,364.6 483.3,357.2 487.5,353.8 491.8,347.0 496.0,354.5 500.2,372.8 504.5,385.0 508.7,385.7 513.0,379.6 517.2,374.8 521.4,370.1 525.7,383.6 529.9,429.1 534.2,421.7 538.4,419.6 542.6,408.1 546.9,390.4 551.1,381.6 555.4,378.9 559.6,384.3 563.8,386.4 568.1,388.4 572.3,393.8 576.6,462.4 580.8,444.8 585.0,399.3 589.3,404.7 593.5,406.1" fill="none" stroke="#3f72ae" stroke-width="1.1" stroke-linejoin="round" stroke-linecap="round"/>
<polyline points="597.8,405.0 602.0,399.9 606.2,397.9 610.5,398.6 614.7,402.3 619.0,402.7 623.2,403.0 627.4,403.3 631.7,404.0 635.9,404.2 640.2,404.4" fill="none" stroke="#e0803c" stroke-width="1.1" stroke-linejoin="round" stroke-linecap="round"/>
<line x1="597" y1="383.2" x2="639.6" y2="383.2" stroke="#111" stroke-width="1.5" stroke-dasharray="3 1.25"/>
<text x="385.1" y="497.0" font-size="8.8" fill="#1a1a1a" stroke="#1a1a1a" stroke-width="0.35" textLength="19.5" lengthAdjust="spacingAndGlyphs" transform="rotate(-90 385.1 497.0)">1974</text>
<text x="402.1" y="497.0" font-size="8.8" fill="#1a1a1a" stroke="#1a1a1a" stroke-width="0.35" textLength="19.5" lengthAdjust="spacingAndGlyphs" transform="rotate(-90 402.1 497.0)">1978</text>
<text x="419.0" y="497.0" font-size="8.8" fill="#1a1a1a" stroke="#1a1a1a" stroke-width="0.35" textLength="19.5" lengthAdjust="spacingAndGlyphs" transform="rotate(-90 419.0 497.0)">1982</text>
<text x="436.0" y="497.0" font-size="8.8" fill="#1a1a1a" stroke="#1a1a1a" stroke-width="0.35" textLength="19.5" lengthAdjust="spacingAndGlyphs" transform="rotate(-90 436.0 497.0)">1986</text>
<text x="453.0" y="497.0" font-size="8.8" fill="#1a1a1a" stroke="#1a1a1a" stroke-width="0.35" textLength="19.5" lengthAdjust="spacingAndGlyphs" transform="rotate(-90 453.0 497.0)">1990</text>
<text x="470.0" y="497.0" font-size="8.8" fill="#1a1a1a" stroke="#1a1a1a" stroke-width="0.35" textLength="19.5" lengthAdjust="spacingAndGlyphs" transform="rotate(-90 470.0 497.0)">1994</text>
<text x="486.9" y="497.0" font-size="8.8" fill="#1a1a1a" stroke="#1a1a1a" stroke-width="0.35" textLength="19.5" lengthAdjust="spacingAndGlyphs" transform="rotate(-90 486.9 497.0)">1998</text>
<text x="503.9" y="497.0" font-size="8.8" fill="#1a1a1a" stroke="#1a1a1a" stroke-width="0.35" textLength="19.5" lengthAdjust="spacingAndGlyphs" transform="rotate(-90 503.9 497.0)">2002</text>
<text x="520.9" y="497.0" font-size="8.8" fill="#1a1a1a" stroke="#1a1a1a" stroke-width="0.35" textLength="19.5" lengthAdjust="spacingAndGlyphs" transform="rotate(-90 520.9 497.0)">2006</text>
<text x="537.8" y="497.0" font-size="8.8" fill="#1a1a1a" stroke="#1a1a1a" stroke-width="0.35" textLength="19.5" lengthAdjust="spacingAndGlyphs" transform="rotate(-90 537.8 497.0)">2010</text>
<text x="554.8" y="497.0" font-size="8.8" fill="#1a1a1a" stroke="#1a1a1a" stroke-width="0.35" textLength="19.5" lengthAdjust="spacingAndGlyphs" transform="rotate(-90 554.8 497.0)">2014</text>
<text x="571.8" y="497.0" font-size="8.8" fill="#1a1a1a" stroke="#1a1a1a" stroke-width="0.35" textLength="19.5" lengthAdjust="spacingAndGlyphs" transform="rotate(-90 571.8 497.0)">2018</text>
<text x="588.7" y="497.0" font-size="8.8" fill="#1a1a1a" stroke="#1a1a1a" stroke-width="0.35" textLength="19.5" lengthAdjust="spacingAndGlyphs" transform="rotate(-90 588.7 497.0)">2022</text>
<text x="605.7" y="497.0" font-size="8.8" fill="#1a1a1a" stroke="#1a1a1a" stroke-width="0.35" textLength="19.5" lengthAdjust="spacingAndGlyphs" transform="rotate(-90 605.7 497.0)">2026</text>
<text x="622.7" y="497.0" font-size="8.8" fill="#1a1a1a" stroke="#1a1a1a" stroke-width="0.35" textLength="19.5" lengthAdjust="spacingAndGlyphs" transform="rotate(-90 622.7 497.0)">2030</text>
<text x="639.6" y="497.0" font-size="8.8" fill="#1a1a1a" stroke="#1a1a1a" stroke-width="0.35" textLength="19.5" lengthAdjust="spacingAndGlyphs" transform="rotate(-90 639.6 497.0)">2034</text>
<line x1="374.5" y1="512.8" x2="401.0" y2="512.8" stroke="#3f72ae" stroke-width="1.3"/>
<text x="404.7" y="516.0" font-size="9" fill="#1a1a1a" stroke="#1a1a1a" stroke-width="0.2" textLength="36.6" lengthAdjust="spacingAndGlyphs">Reported</text>
<line x1="456.4" y1="512.8" x2="483.6" y2="512.8" stroke="#e0803c" stroke-width="1.3"/>
<text x="486.6" y="516.0" font-size="9" fill="#1a1a1a" stroke="#1a1a1a" stroke-width="0.2" textLength="38.5" lengthAdjust="spacingAndGlyphs">Estimated</text>
<line x1="540.2" y1="512.8" x2="568" y2="512.8" stroke="#111" stroke-width="1.3" stroke-dasharray="3 1.15"/>
<text x="571.0" y="516.0" font-size="9" fill="#1a1a1a" stroke="#1a1a1a" stroke-width="0.2" textLength="56.6" lengthAdjust="spacingAndGlyphs">Bessent target</text>
<text x="399.7" y="422.7" font-size="14" fill="#111" stroke="#111" stroke-width="0.4" font-family="'DejaVu Sans', 'Liberation Sans', sans-serif" textLength="84.9" lengthAdjust="spacing">A structural</text>
<text x="399.7" y="443.4" font-size="14" fill="#111" stroke="#111" stroke-width="0.4" font-family="'DejaVu Sans', 'Liberation Sans', sans-serif" textLength="117.7" lengthAdjust="spacing">deficit financed</text>
<text x="399.7" y="463.4" font-size="14" fill="#111" stroke="#111" stroke-width="0.4" font-family="'DejaVu Sans', 'Liberation Sans', sans-serif" textLength="124.5" lengthAdjust="spacing">by Treasury Bills?</text>
<text x="349.3" y="535.3" font-size="9.5" fill="#707070" font-style="italic" textLength="306.7" lengthAdjust="spacingAndGlyphs">Source: Bloomberg. Annual data from fiscal 1974 through 2024; CBO annual</text>
<text x="349.3" y="546.6" font-size="9.5" fill="#707070" font-style="italic" textLength="199.0" lengthAdjust="spacingAndGlyphs">estimates through 2035, based on Jan '25 update.</text>
</svg>
</body></html>
